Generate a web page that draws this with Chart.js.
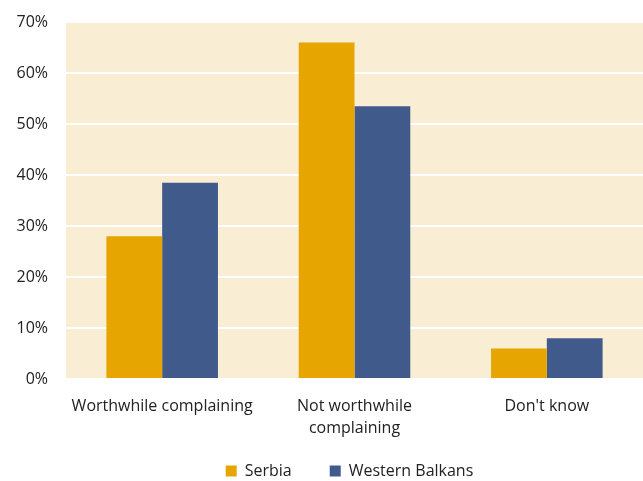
<!DOCTYPE html>
<html><head><meta charset="utf-8">
<script src="https://cdn.jsdelivr.net/npm/chart.js@4/dist/chart.umd.min.js"></script>
<style>html,body{margin:0;padding:0;background:#fff}#wrap{width:643px;height:481px}</style>
</head><body><div id="wrap"><canvas id="c" width="643" height="481"></canvas></div>
<script>
const categories = ["Worthwhile complaining", ["Not worthwhile", "complaining"], "Don't know"];
const serbia = [28, 66, 6];
const westernBalkans = [38.5, 53.5, 8];
const seriesNames = ["Serbia", "Western Balkans"];
const yTicks = [0, 10, 20, 30, 40, 50, 60, 70];

const bgPlugin = {
  id: 'bg',
  beforeUpdate(chart) {
    const lg = chart.legend;
    if (lg && !lg._patched) {
      const origFit = lg.fit;
      lg.fit = function () { origFit.call(this); this.height = 40; };
      const origDraw = lg._draw;
      lg._draw = function () {
        const t = this.top, l = this.left, r = this.right;
        this.top = t - 16; this.left = l + 28; this.right = r + 28;
        origDraw.call(this);
        this.top = t; this.left = l; this.right = r;
      };
      lg._patched = true;
    }
  },
  beforeDraw(chart) {
    const {ctx, chartArea: a} = chart;
    ctx.save();
    ctx.fillStyle = '#F9EDD3';
    ctx.fillRect(a.left, a.top, a.right - a.left, a.bottom - a.top);
    ctx.restore();
  }
};
const font = {family: "'Open Sans', sans-serif", size: 16, lineHeight: 1.35};
new Chart(document.getElementById('c'), {
  type: 'bar',
  data: {
    labels: categories,
    datasets: [
      {label: seriesNames[0], data: serbia, backgroundColor: '#E6A500', categoryPercentage: 0.58, barPercentage: 1},
      {label: seriesNames[1], data: westernBalkans, backgroundColor: '#405A8B', categoryPercentage: 0.58, barPercentage: 1}
    ]
  },
  options: {
    responsive: false,
    animation: false,
    devicePixelRatio: 1,
    layout: {padding: {top: 22, right: 0, left: 0, bottom: 0}},
    plugins: {
      tooltip: {enabled: false},
      legend: {
        position: 'bottom',
        labels: {boxWidth: 11, boxHeight: 11, color: '#222', font: font, padding: 38}
      }
    },
    scales: {
      x: {
        grid: {display: false},
        border: {display: false},
        ticks: {color: '#222', font: font, maxRotation: 0, autoSkip: false, padding: 9},
        afterFit(s) { s.height = 62; s.paddingLeft = 0; s.paddingRight = 0; }
      },
      y: {
        min: 0, max: 70,
        afterBuildTicks(s) { s.ticks = yTicks.map(v => ({value: v})); },
        grid: {color: '#ffffff', lineWidth: 2, drawTicks: false},
        border: {display: false},
        ticks: {color: '#222', font: font, padding: 18, callback: v => v + '%'},
        afterFit(s) { s.width = 66; s.paddingTop = 0; s.paddingBottom = 0; }
      }
    }
  },
  plugins: [bgPlugin]
});
</script></body></html>
